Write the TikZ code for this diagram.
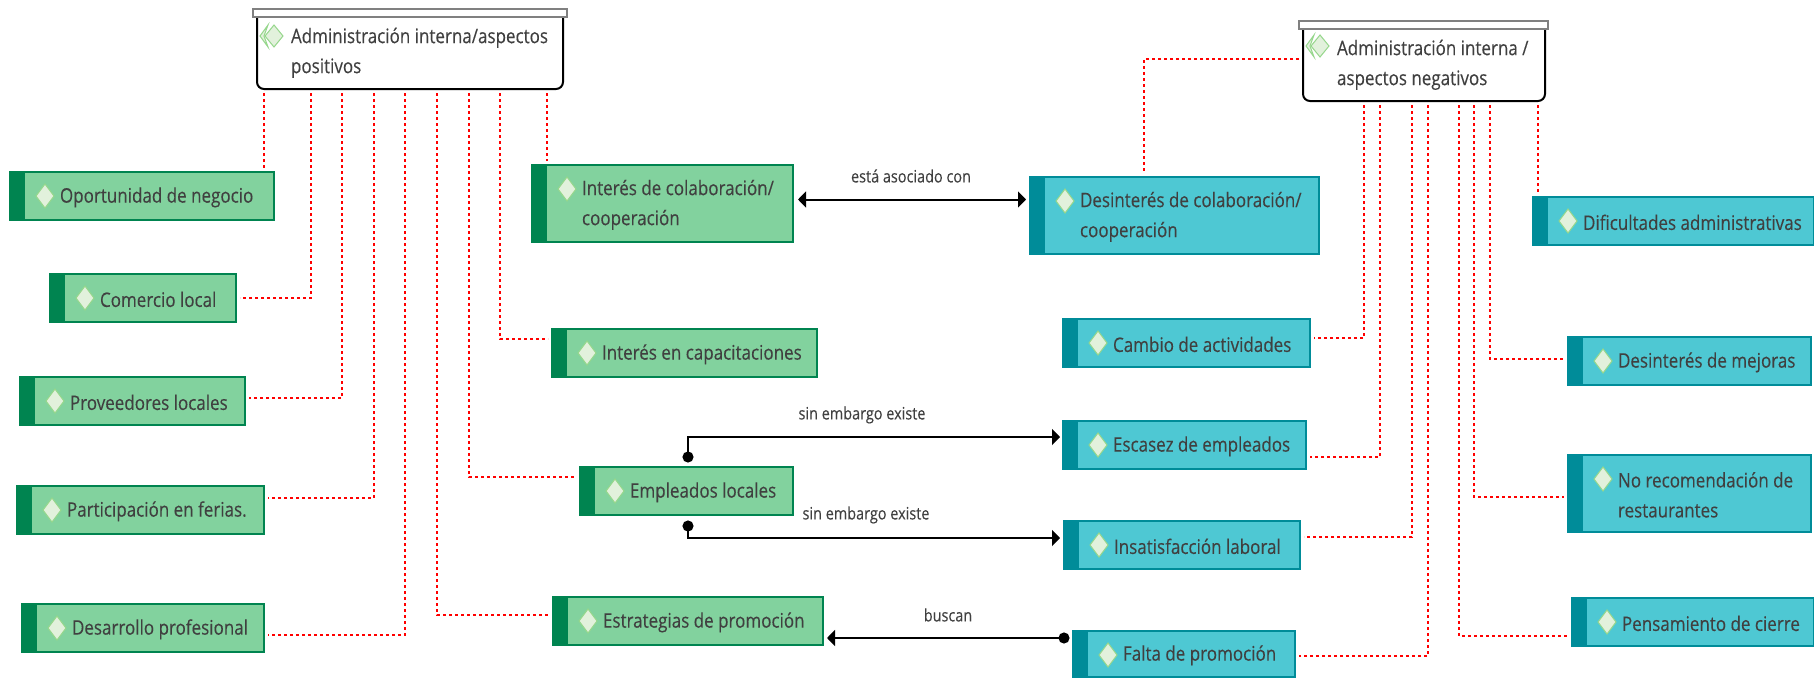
\documentclass[tikz,border=0pt]{standalone}
\usepackage{fontspec}
\setmainfont[FakeStretch=0.85,FakeBold=0.2]{Open Sans}
\usetikzlibrary{arrows.meta,positioning}
\definecolor{pGreen}{RGB}{130,210,158}
\definecolor{pGreenD}{RGB}{0,132,80}
\definecolor{pTeal}{RGB}{78,200,211}
\definecolor{pTealD}{RGB}{0,140,153}
\definecolor{pGem}{RGB}{226,241,220}
\definecolor{pGemD}{RGB}{150,215,140}
\definecolor{pText}{RGB}{64,64,64}
\definecolor{pCap}{gray}{0.5}
\tikzset{
    tema/.style={rectangle, draw=#1D, line width=2pt, fill=#1, anchor=north west, inner sep=0pt, outer sep=0pt,
        minimum height=48pt, align=flush left, text=pText, font=\fontsize{20}{30}\selectfont,
        execute at begin node={\leftskip=50pt\leavevmode\rule{0pt}{18pt}},
        path picture={
            \fill[#1D] (path picture bounding box.north west) rectangle ([xshift=15pt]path picture bounding box.south west);
            \draw[pGemD, fill=pGem, line width=1pt] ([shift={(35pt,-12pt)}]path picture bounding box.north west)
                -- ++(9pt,-12pt) -- ++(-9pt,-12pt) -- ++(-9pt,12pt) -- cycle;
        }},
    head/.style={rectangle, draw=black, line width=2pt, fill=white, rounded corners=7pt, anchor=north west, inner sep=0pt, outer sep=0pt,
        minimum height=79pt, align=flush left, text=pText, font=\fontsize{20}{30}\selectfont,
        execute at begin node={\leftskip=34pt\leavevmode\rule{0pt}{22pt}}},
    hcap/.style={rectangle, draw=pCap, line width=2pt, fill=white, anchor=north west, inner sep=0pt, outer sep=0pt, minimum height=8pt},
    rel/.style={draw=red, line width=1.8pt, dash pattern=on 3pt off 3pt, shorten <=4pt, shorten >=4pt},
    lnk/.style={draw=black, line width=2pt},
    lbl/.style={text=pText, inner sep=0pt, font=\fontsize{17}{22}\selectfont}
}
\begin{document}
\begin{tikzpicture}[x=1pt,y=-1pt]
\useasboundingbox (0,0) rectangle (1814,677);
% encabezados
\node[head, text width=306pt] (hpos) at (257,10) {Administración interna/aspectos\\positivos};
\node[hcap, minimum width=314pt] (hposcap) at (253,9) {};
\node[head, text width=242pt] (hneg) at (1303,22) {Administración interna /\\aspectos negativos};
\node[hcap, minimum width=249pt] (hnegcap) at (1299,21) {};
\foreach \p/\q in {274/36,1320/46}{
    \draw[pGemD, fill=pGem, line width=1pt] (\p-6,\q-11) -- (\p-14,\q) -- (\p-6,\q+11) -- (\p-10,\q) -- cycle;
    \draw[pGemD, fill=pGem, line width=1pt] (\p,\q-11) -- (\p+9,\q) -- (\p,\q+11) -- (\p-9,\q) -- cycle;
}
% aspectos positivos
\node[tema=pGreen, text width=264pt] (oport) at (10,172) {Oportunidad de negocio};
\node[tema=pGreen, text width=186pt] (comer) at (50,274) {Comercio local};
\node[tema=pGreen, text width=225pt] (prove) at (20,377) {Proveedores locales};
\node[tema=pGreen, text width=247pt] (ferias) at (17,486) {Participación en ferias.};
\node[tema=pGreen, text width=242pt] (desar) at (22,604) {Desarrollo profesional};
\node[tema=pGreen, text width=261pt, minimum height=77pt] (colab) at (532,165) {Interés de colaboración/\\cooperación};
\node[tema=pGreen, text width=265pt] (capac) at (552,329) {Interés en capacitaciones};
\node[tema=pGreen, text width=213pt] (emple) at (580,467) {Empleados locales};
\node[tema=pGreen, text width=270pt] (estra) at (553,597) {Estrategias de promoción};
% aspectos negativos
\node[tema=pTeal, text width=289pt, minimum height=77pt] (desin) at (1030,177) {Desinterés de colaboración/\\cooperación};
\node[tema=pTeal, text width=281pt] (dific) at (1533,197) {Dificultades administrativas};
\node[tema=pTeal, text width=247pt] (cambi) at (1063,319) {Cambio de actividades};
\node[tema=pTeal, text width=243pt] (mejor) at (1568,337) {Desinterés de mejoras};
\node[tema=pTeal, text width=243pt] (escas) at (1063,421) {Escasez de empleados};
\node[tema=pTeal, text width=243pt, minimum height=77pt] (recom) at (1568,455) {No recomendación de\\restaurantes};
\node[tema=pTeal, text width=236pt] (insat) at (1064,521) {Insatisfacción laboral};
\node[tema=pTeal, text width=242pt] (pensa) at (1572,598) {Pensamiento de cierre};
\node[tema=pTeal, text width=222pt, minimum height=46pt] (falta) at (1073,631) {Falta de promoción};
% relaciones
\draw[rel] ([xshift=-146pt]hpos.south) -- ([xshift=-146pt]hpos.south |- oport.north);
\draw[rel] ([xshift=-99pt]hpos.south) |- (comer.east);
\draw[rel] ([xshift=-68pt]hpos.south) |- ([yshift=3pt]prove.east);
\draw[rel] ([xshift=-36pt]hpos.south) |- ([yshift=12pt]ferias.east);
\draw[rel] ([xshift=-5pt]hpos.south) |- ([yshift=-7pt]desar.east);
\draw[rel] ([xshift=27pt]hpos.south) |- ([yshift=6pt]estra.west);
\draw[rel] ([xshift=59pt]hpos.south) |- ([yshift=14pt]emple.west);
\draw[rel] ([xshift=90pt]hpos.south) |- ([yshift=14pt]capac.west);
\draw[rel] ([xshift=137pt]hpos.south) -- ([xshift=137pt]hpos.south |- colab.north);
\draw[rel] ([yshift=2.5pt]hneg.west) -| ([xshift=-30.5pt]desin.north);
\draw[rel] ([xshift=-60pt]hneg.south) |- ([yshift=5pt]cambi.east);
\draw[rel] ([xshift=-44pt]hneg.south) |- ([yshift=-12pt]escas.east);
\draw[rel] ([xshift=-12pt]hneg.south) |- ([yshift=8pt]insat.east);
\draw[rel] ([xshift=4pt]hneg.south) |- ([yshift=-2pt]falta.east);
\draw[rel] ([xshift=35pt]hneg.south) |- ([yshift=-14pt]pensa.west);
\draw[rel] ([xshift=50pt]hneg.south) |- ([yshift=-3.5pt]recom.west);
\draw[rel] ([xshift=66pt]hneg.south) |- ([yshift=2pt]mejor.west);
\draw[rel] ([xshift=114pt]hneg.south) -- ([xshift=114pt]hneg.south |- dific.north);
% enlaces
\draw[lnk, {Triangle[length=8pt,width=16pt]}-{Triangle[length=8pt,width=16pt]}] ([shift={(5pt,4pt)}]colab.east) -- ([shift={(-4pt,16pt)}]desin.west);
\draw[lnk, {Circle[length=11pt]}-{Triangle[length=8pt,width=16pt]}] ([shift={(1.5pt,4.5pt)}]emple.north) |- ([shift={(-3pt,8pt)}]escas.west);
\draw[lnk, {Circle[length=11pt]}-{Triangle[length=8pt,width=16pt]}] ([shift={(1.5pt,-5.5pt)}]emple.south) |- ([shift={(-4pt,7pt)}]insat.west);
\draw[lnk, {Circle[length=11pt]}-{Triangle[length=8pt,width=16pt]}] ([shift={(-3.5pt,16pt)}]falta.west) -- ([shift={(4pt,-17pt)}]estra.east);
\node[lbl] (lasoc) at (911,176) {está asociado con};
\node[lbl] (lsin) at (862,415) {sin embargo existe};
\node[lbl] (lsinb) at (866,515) {sin embargo existe};
\node[lbl] (lbus) at (948,615) {buscan};
\end{tikzpicture}
\end{document}
